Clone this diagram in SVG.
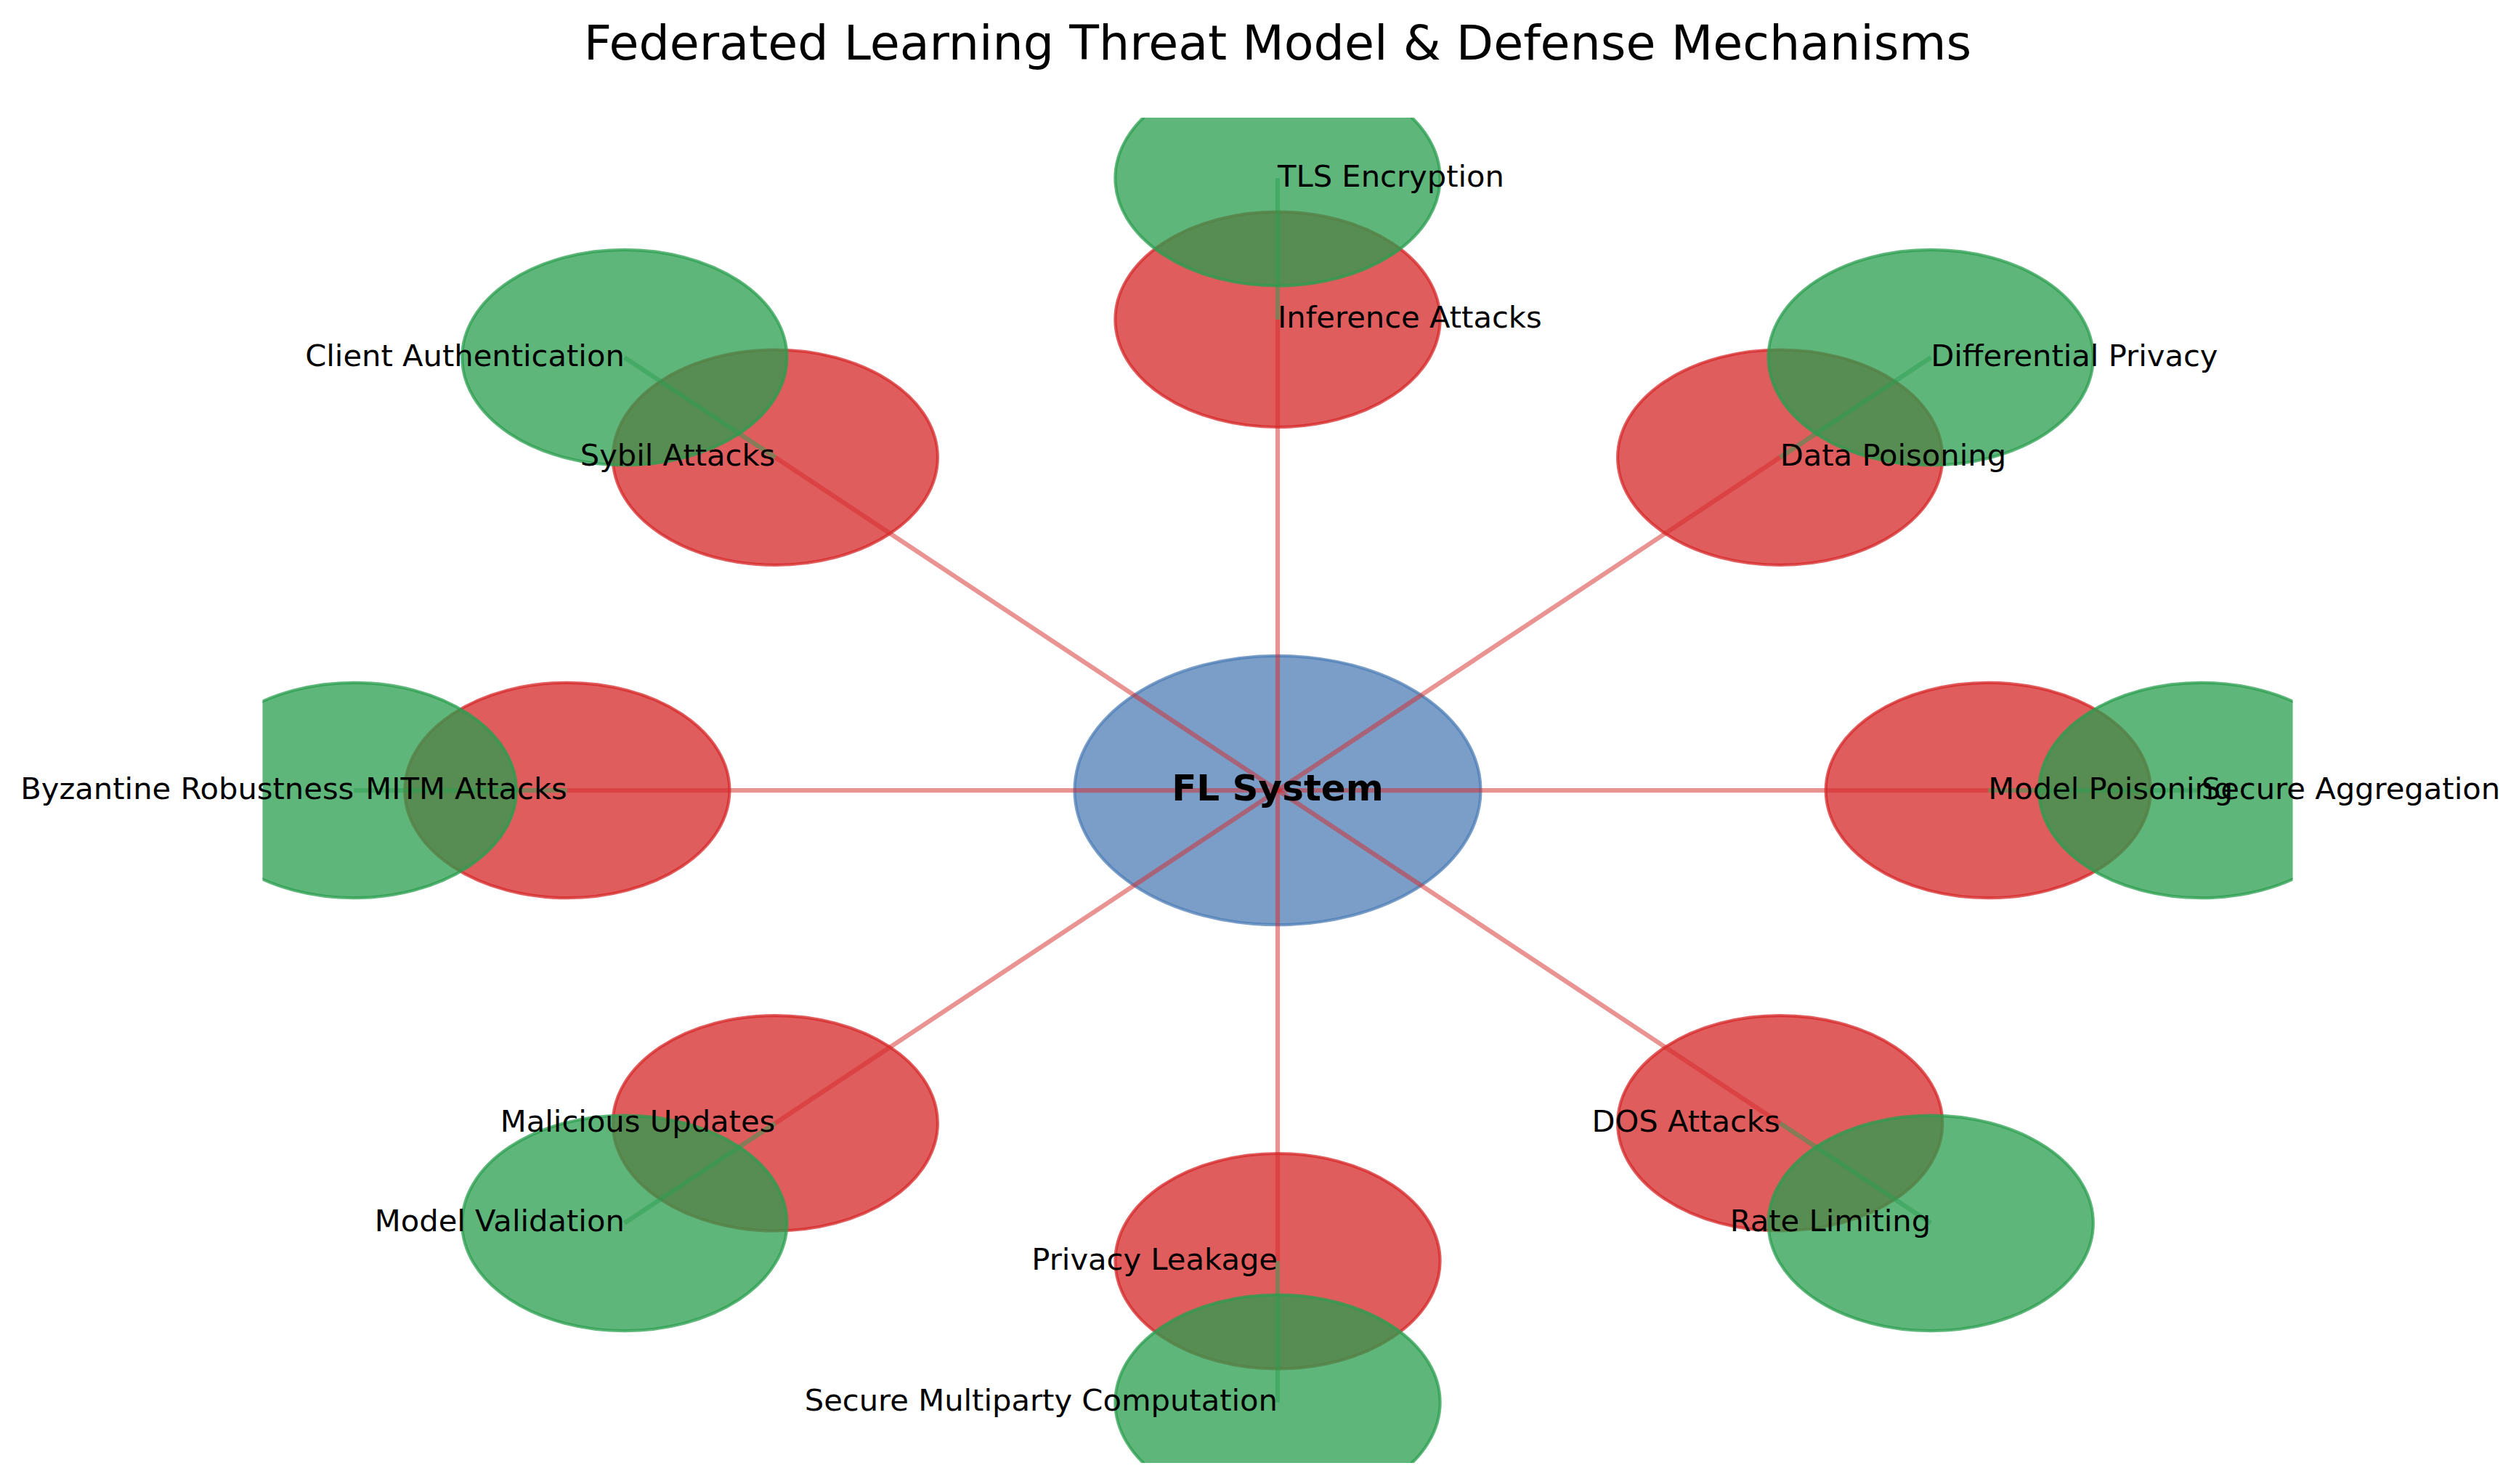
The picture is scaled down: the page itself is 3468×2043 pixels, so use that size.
<svg xmlns="http://www.w3.org/2000/svg" width="3468" height="2043" viewBox="0 0 3468 2043">
<style>
text { font-family: "DejaVu Sans", "Liberation Sans", sans-serif; fill: #000; }
.lbl { font-size: 41.67px; }
.st { text-anchor: start; }
.en { text-anchor: end; }
.title { font-size: 66.67px; text-anchor: middle; }
.core { font-size: 50px; font-weight: bold; text-anchor: middle; }
.threat { fill: #d62728; fill-opacity: 0.75; stroke: #d62728; stroke-opacity: 0.75; stroke-width: 4.17; }
.defense { fill: #2a9d4f; fill-opacity: 0.75; stroke: #2a9d4f; stroke-opacity: 0.75; stroke-width: 4.17; }
.center { fill: #4e7eb6; fill-opacity: 0.75; stroke: #4e7eb6; stroke-opacity: 0.75; stroke-width: 4.17; }
.rl { stroke: #d62728; stroke-opacity: 0.5; stroke-width: 6.25; fill: none; }
.gl { stroke: #2a9d4f; stroke-opacity: 0.5; stroke-width: 6.25; fill: none; }
</style>
<defs>
<clipPath id="ax"><rect x="361.5" y="162" width="2795" height="1852"/></clipPath>
</defs>
<rect x="0" y="0" width="3468" height="2043" fill="#ffffff"/>
<text class="title" x="1759" y="82">Federated Learning Threat Model &amp; Defense Mechanisms</text>
<g id="nodes" clip-path="url(#ax)">
<g id="fl-system"><ellipse class="center" cx="1759" cy="1088" rx="279.5" ry="185.2"/></g>
<g id="model-poisoning"><ellipse class="threat" cx="2737.3" cy="1088" rx="223.6" ry="148.2"/></g>
<g id="secure-aggregation"><ellipse class="defense" cx="3030.7" cy="1088" rx="223.6" ry="148.2"/></g>
<g id="data-poisoning"><ellipse class="threat" cx="2450.7" cy="629.7" rx="223.6" ry="148.2"/></g>
<g id="differential-privacy"><ellipse class="defense" cx="2658.2" cy="492.1" rx="223.6" ry="148.2"/></g>
<g id="inference-attacks"><ellipse class="threat" cx="1759" cy="439.8" rx="223.6" ry="148.2"/></g>
<g id="tls-encryption"><ellipse class="defense" cx="1759" cy="245.3" rx="223.6" ry="148.2"/></g>
<g id="sybil-attacks"><ellipse class="threat" cx="1067.3" cy="629.7" rx="223.6" ry="148.2"/></g>
<g id="client-authentication"><ellipse class="defense" cx="859.8" cy="492.1" rx="223.6" ry="148.2"/></g>
<g id="mitm-attacks"><ellipse class="threat" cx="780.8" cy="1088" rx="223.6" ry="148.2"/></g>
<g id="byzantine-robustness"><ellipse class="defense" cx="487.3" cy="1088" rx="223.6" ry="148.2"/></g>
<g id="malicious-updates"><ellipse class="threat" cx="1067.3" cy="1546.3" rx="223.6" ry="148.2"/></g>
<g id="model-validation"><ellipse class="defense" cx="859.8" cy="1683.9" rx="223.6" ry="148.2"/></g>
<g id="privacy-leakage"><ellipse class="threat" cx="1759" cy="1736.2" rx="223.6" ry="148.2"/></g>
<g id="secure-multiparty-computation"><ellipse class="defense" cx="1759" cy="1930.7" rx="223.6" ry="148.2"/></g>
<g id="dos-attacks"><ellipse class="threat" cx="2450.7" cy="1546.3" rx="223.6" ry="148.2"/></g>
<g id="rate-limiting"><ellipse class="defense" cx="2658.2" cy="1683.9" rx="223.6" ry="148.2"/></g>
</g>
<g id="connectors" clip-path="url(#ax)">
<line class="rl" x1="1759" y1="1088" x2="2737.3" y2="1088"/>
<line class="gl" x1="3030.7" y1="1088" x2="2737.3" y2="1088"/>
<line class="rl" x1="1759" y1="1088" x2="2450.7" y2="629.7"/>
<line class="gl" x1="2658.2" y1="492.1" x2="2450.7" y2="629.7"/>
<line class="rl" x1="1759" y1="1088" x2="1759" y2="439.8"/>
<line class="gl" x1="1759" y1="245.3" x2="1759" y2="439.8"/>
<line class="rl" x1="1759" y1="1088" x2="1067.3" y2="629.7"/>
<line class="gl" x1="859.8" y1="492.1" x2="1067.3" y2="629.7"/>
<line class="rl" x1="1759" y1="1088" x2="780.8" y2="1088"/>
<line class="gl" x1="487.3" y1="1088" x2="780.8" y2="1088"/>
<line class="rl" x1="1759" y1="1088" x2="1067.3" y2="1546.3"/>
<line class="gl" x1="859.8" y1="1683.9" x2="1067.3" y2="1546.3"/>
<line class="rl" x1="1759" y1="1088" x2="1759" y2="1736.2"/>
<line class="gl" x1="1759" y1="1930.7" x2="1759" y2="1736.2"/>
<line class="rl" x1="1759" y1="1088" x2="2450.7" y2="1546.3"/>
<line class="gl" x1="2658.2" y1="1683.9" x2="2450.7" y2="1546.3"/>
</g>
<g id="labels">
<text class="core" x="1759" y="1101.8">FL System</text>
<text class="lbl st" x="2737.3" y="1099.5">Model Poisoning</text>
<text class="lbl st" x="3030.7" y="1099.5">Secure Aggregation</text>
<text class="lbl st" x="2450.7" y="641.2">Data Poisoning</text>
<text class="lbl st" x="2658.2" y="503.6">Differential Privacy</text>
<text class="lbl st" x="1759" y="451.3">Inference Attacks</text>
<text class="lbl st" x="1759" y="256.8">TLS Encryption</text>
<text class="lbl en" x="1067.3" y="641.2">Sybil Attacks</text>
<text class="lbl en" x="859.8" y="503.6">Client Authentication</text>
<text class="lbl en" x="780.8" y="1099.5">MITM Attacks</text>
<text class="lbl en" x="487.3" y="1099.5">Byzantine Robustness</text>
<text class="lbl en" x="1067.3" y="1557.8">Malicious Updates</text>
<text class="lbl en" x="859.8" y="1695.4">Model Validation</text>
<text class="lbl en" x="1759" y="1747.7">Privacy Leakage</text>
<text class="lbl en" x="1759" y="1942.2">Secure Multiparty Computation</text>
<text class="lbl en" x="2450.7" y="1557.8">DOS Attacks</text>
<text class="lbl en" x="2658.2" y="1695.4">Rate Limiting</text>
</g>
</svg>
